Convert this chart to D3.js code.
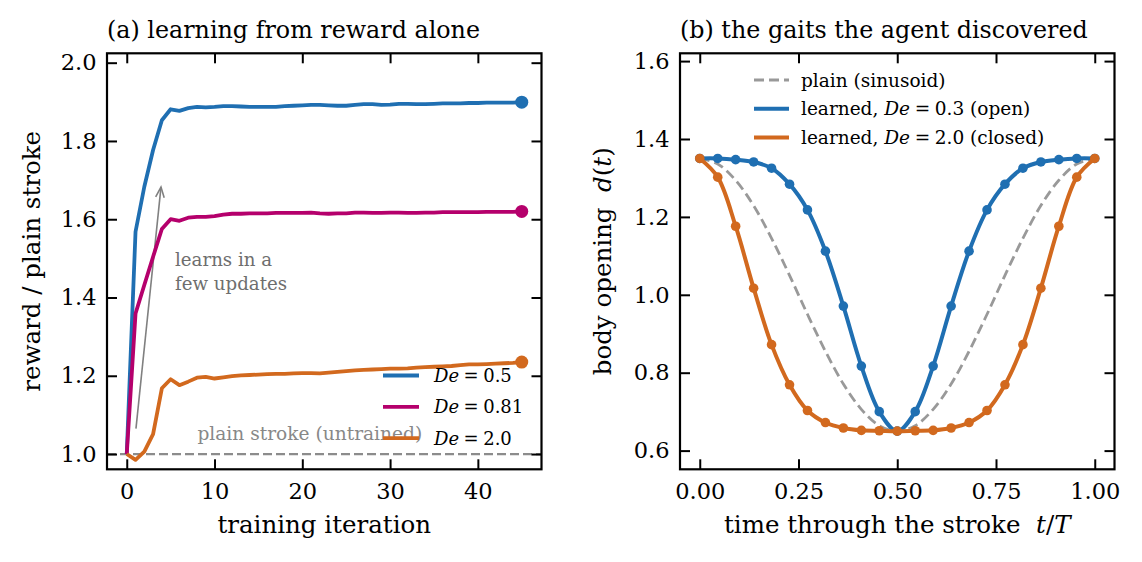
<!DOCTYPE html>
<html>
<head>
<meta charset="utf-8">
<script src="https://cdn.jsdelivr.net/npm/d3@7"></script>
<style>
  body { margin: 0; background: #fff; }
  svg, text, tspan { font-family: "DejaVu Serif", serif; }
</style>
</head>
<body>
<script>
// ---- panel (a): reward / plain stroke per training iteration (index = iteration)
var rewardDe05 = [1.000, 1.568, 1.683, 1.777, 1.853, 1.881, 1.877, 1.884, 1.887, 1.886,
                  1.887, 1.889, 1.889, 1.888, 1.887, 1.887, 1.887, 1.887, 1.889, 1.890,
                  1.891, 1.892, 1.892, 1.891, 1.890, 1.890, 1.892, 1.894, 1.894, 1.892,
                  1.893, 1.895, 1.895, 1.894, 1.894, 1.895, 1.896, 1.896, 1.896, 1.897,
                  1.897, 1.898, 1.898, 1.898, 1.898, 1.899];
var rewardDe081 = [1.000, 1.359, 1.432, 1.504, 1.575, 1.600, 1.596, 1.604, 1.606, 1.606,
                   1.608, 1.612, 1.614, 1.614, 1.615, 1.615, 1.615, 1.616, 1.616, 1.616,
                   1.616, 1.617, 1.615, 1.614, 1.615, 1.615, 1.617, 1.617, 1.616, 1.616,
                   1.617, 1.617, 1.616, 1.616, 1.617, 1.617, 1.618, 1.618, 1.618, 1.618,
                   1.618, 1.619, 1.619, 1.619, 1.619, 1.620];
var rewardDe2 = [1.000, 0.985, 1.006, 1.051, 1.168, 1.191, 1.176, 1.185, 1.195, 1.197,
                 1.193, 1.196, 1.199, 1.201, 1.202, 1.203, 1.204, 1.205, 1.205, 1.206,
                 1.207, 1.207, 1.206, 1.208, 1.210, 1.212, 1.214, 1.215, 1.216, 1.217,
                 1.218, 1.218, 1.219, 1.221, 1.222, 1.223, 1.224, 1.225, 1.227, 1.229,
                 1.229, 1.230, 1.231, 1.232, 1.233, 1.235];
var rewardLabels = ["0.5", "0.81", "2.0"];
var rewardTicksX = [0, 10, 20, 30, 40];
var rewardTicksY = [1.0, 1.2, 1.4, 1.6, 1.8, 2.0];

// ---- panel (b): body opening over one stroke
var phase = [0, 0.0455, 0.0909, 0.1364, 0.1818, 0.2273, 0.2727, 0.3182, 0.3636, 0.4091, 0.4545, 0.5,
             0.5455, 0.5909, 0.6364, 0.6818, 0.7273, 0.7727, 0.8182, 0.8636, 0.9091, 0.9545, 1.0];
var plainGait = [1.350, 1.336, 1.294, 1.229, 1.145, 1.050, 0.950, 0.855, 0.771, 0.706, 0.664, 0.650,
                 0.664, 0.706, 0.771, 0.855, 0.950, 1.050, 1.145, 1.229, 1.294, 1.336, 1.350];
var openGait = [1.350, 1.350, 1.347, 1.341, 1.325, 1.284, 1.218, 1.112, 0.971, 0.817, 0.700, 0.650,
                0.700, 0.817, 0.971, 1.112, 1.218, 1.284, 1.325, 1.341, 1.347, 1.350, 1.350];
var closedGait = [1.350, 1.302, 1.176, 1.017, 0.872, 0.769, 0.703, 0.672, 0.658, 0.652, 0.651, 0.650,
                  0.651, 0.652, 0.658, 0.672, 0.703, 0.769, 0.872, 1.017, 1.176, 1.302, 1.350];
var gaitTicksX = [0, 0.25, 0.5, 0.75, 1.0];
var gaitTicksY = [0.6, 0.8, 1.0, 1.2, 1.4, 1.6];

var blue = "#1f6fb2", magenta = "#b5006c", orange = "#d2691e";
var serif = "'DejaVu Serif', serif";
var tickFont = "22.5px", labelFont = "24.5px", titleFont = "23.8px", legendFont = "18.5px";

var svg = d3.select("body").append("svg")
  .attr("width", 1142)
  .attr("height", 562)
  .style("font-family", serif);

var frameA = {left: 107, right: 541.5, top: 53.3, bottom: 469.3};
var frameB = {left: 680, right: 1114.5, top: 53.3, bottom: 469.3};

var xA = d3.scaleLinear().domain([-2.25, 47.25]).range([frameA.left, frameA.right]);
var yA = d3.scaleLinear().domain([0.961, 2.024]).range([frameA.bottom, frameA.top]);
var xB = d3.scaleLinear().domain([-0.05, 1.05]).range([frameB.left, frameB.right]);
var yB = d3.scaleLinear().domain([0.552, 1.62]).range([frameB.bottom, frameB.top]);

function drawAxes(fr, x, y, xt, yt, xf, yf) {
  var g = svg.append("g");
  var bottom = g.append("g").attr("transform", "translate(0," + fr.bottom + ")")
    .call(d3.axisBottom(x).tickValues(xt).tickFormat(xf).tickSizeInner(-10).tickSizeOuter(0).tickPadding(14));
  var top = g.append("g").attr("transform", "translate(0," + fr.top + ")")
    .call(d3.axisTop(x).tickValues(xt).tickFormat("").tickSizeInner(-10).tickSizeOuter(0));
  var left = g.append("g").attr("transform", "translate(" + fr.left + ",0)")
    .call(d3.axisLeft(y).tickValues(yt).tickFormat(yf).tickSizeInner(-10).tickSizeOuter(0).tickPadding(10.5));
  var right = g.append("g").attr("transform", "translate(" + fr.right + ",0)")
    .call(d3.axisRight(y).tickValues(yt).tickFormat("").tickSizeInner(-10).tickSizeOuter(0));
  [bottom, top, left, right].forEach(function(a) {
    a.attr("font-family", null);
    a.select(".domain").remove();
    a.selectAll("line").attr("stroke", "#000").attr("stroke-width", 2);
    a.selectAll("text").attr("fill", "#000").style("font-size", tickFont);
  });
  return g;
}

function drawFrame(fr) {
  svg.append("rect")
    .attr("x", fr.left).attr("y", fr.top)
    .attr("width", fr.right - fr.left).attr("height", fr.bottom - fr.top)
    .attr("fill", "none").attr("stroke", "#000").attr("stroke-width", 2.2);
}

// ================= panel (a) =================
svg.append("clipPath").attr("id", "clipA").append("rect")
  .attr("x", frameA.left).attr("y", frameA.top)
  .attr("width", frameA.right - frameA.left).attr("height", frameA.bottom - frameA.top);

var plotA = svg.append("g");

// reference line: plain stroke
plotA.append("line")
  .attr("x1", frameA.left).attr("x2", frameA.right)
  .attr("y1", yA(1.0)).attr("y2", yA(1.0))
  .attr("stroke", "#8c8c8c").attr("stroke-width", 2.2).attr("stroke-dasharray", "9,4");

plotA.append("text")
  .attr("x", xA(8.05)).attr("y", 440)
  .attr("fill", "#888").style("font-size", "18.6px")
  .text("plain stroke (untrained)");

// annotation arrow
var arrowFrom = [1.05, 1.065], arrowTo = [3.9, 1.682];
var ax0 = xA(arrowFrom[0]), ay0 = yA(arrowFrom[1]), ax1 = xA(arrowTo[0]), ay1 = yA(arrowTo[1]);
var ang = Math.atan2(ay1 - ay0, ax1 - ax0);
plotA.append("line")
  .attr("x1", ax0).attr("y1", ay0).attr("x2", ax1).attr("y2", ay1)
  .attr("stroke", "#808080").attr("stroke-width", 1.6);
plotA.append("path")
  .attr("d", d3.line()([
    [ax1 - 11 * Math.cos(ang - 0.4), ay1 - 11 * Math.sin(ang - 0.4)],
    [ax1, ay1],
    [ax1 - 11 * Math.cos(ang + 0.4), ay1 - 11 * Math.sin(ang + 0.4)]
  ]))
  .attr("fill", "none").attr("stroke", "#808080").attr("stroke-width", 1.6);

plotA.append("text")
  .attr("x", xA(5.5)).attr("y", 266)
  .attr("fill", "#6e6e6e").style("font-size", "18.2px")
  .selectAll("tspan").data(["learns in a", "few updates"]).enter()
  .append("tspan").attr("x", xA(5.5)).attr("dy", function(d, i) { return i ? 23.5 : 0; })
  .text(function(d) { return d; });

var lineA = d3.line()
  .x(function(d, i) { return xA(i); })
  .y(function(d) { return yA(d); });

var seriesA = [
  {values: rewardDe05, color: blue, label: rewardLabels[0]},
  {values: rewardDe081, color: magenta, label: rewardLabels[1]},
  {values: rewardDe2, color: orange, label: rewardLabels[2]}
];

seriesA.forEach(function(s) {
  plotA.append("path")
    .attr("d", lineA(s.values))
    .attr("fill", "none").attr("stroke", s.color)
    .attr("stroke-width", 3.8).attr("stroke-linejoin", "round")
    .attr("clip-path", "url(#clipA)");
  var last = s.values.length - 1;
  plotA.append("circle")
    .attr("cx", xA(last)).attr("cy", yA(s.values[last]))
    .attr("r", 6.5).attr("fill", s.color);
});

// legend (a)
var legA = svg.append("g");
seriesA.forEach(function(s, i) {
  var ly = 375.5 + i * 31.3;
  legA.append("line")
    .attr("x1", 383).attr("x2", 419).attr("y1", ly).attr("y2", ly)
    .attr("stroke", s.color).attr("stroke-width", 3.8);
  var t = legA.append("text")
    .attr("x", 434).attr("y", ly).attr("dy", "0.36em")
    .style("font-size", "18px").attr("fill", "#000");
  t.append("tspan").style("font-style", "italic").text("De");
  t.append("tspan").text("\u2005=\u2005" + s.label);
});

drawAxes(frameA, xA, yA, rewardTicksX, rewardTicksY, d3.format("d"), d3.format(".1f"));
drawFrame(frameA);

svg.append("text")
  .attr("x", frameA.left).attr("y", 38)
  .style("font-size", titleFont)
  .text("(a) learning from reward alone");

svg.append("text")
  .attr("x", (frameA.left + frameA.right) / 2).attr("y", 533)
  .attr("text-anchor", "middle").style("font-size", labelFont)
  .text("training iteration");

svg.append("text")
  .attr("transform", "translate(40," + (frameA.top + frameA.bottom) / 2 + ") rotate(-90)")
  .attr("text-anchor", "middle").style("font-size", labelFont)
  .text("reward / plain stroke");

// ================= panel (b) =================
var plotB = svg.append("g");

var lineB = d3.line()
  .x(function(d, i) { return xB(phase[i]); })
  .y(function(d) { return yB(d); })
  .curve(d3.curveCatmullRom.alpha(0.5));

plotB.append("path")
  .attr("d", lineB(plainGait))
  .attr("fill", "none").attr("stroke", "#999")
  .attr("stroke-width", 2.8).attr("stroke-dasharray", "10,5");

var seriesB = [
  {values: openGait, color: blue},
  {values: closedGait, color: orange}
];

seriesB.forEach(function(s) {
  plotB.append("path")
    .attr("d", lineB(s.values))
    .attr("fill", "none").attr("stroke", s.color)
    .attr("stroke-width", 4).attr("stroke-linejoin", "round");
  plotB.selectAll(null).data(s.values).enter()
    .append("circle")
    .attr("cx", function(d, i) { return xB(phase[i]); })
    .attr("cy", function(d) { return yB(d); })
    .attr("r", 4.8).attr("fill", s.color);
});

// legend (b)
var legB = svg.append("g");
var legBItems = [
  {color: "#999", dash: "10,5", width: 2.8, parts: [["plain (sinusoid)", false]]},
  {color: blue, dash: null, width: 4, parts: [["learned, ", false], ["De", true], ["\u2005=\u20050.3 (open)", false]]},
  {color: orange, dash: null, width: 4, parts: [["learned, ", false], ["De", true], ["\u2005=\u20052.0 (closed)", false]]}
];
legBItems.forEach(function(it, i) {
  var ly = 80 + i * 28.7;
  legB.append("line")
    .attr("x1", 754).attr("x2", 789).attr("y1", ly).attr("y2", ly)
    .attr("stroke", it.color).attr("stroke-width", it.width)
    .attr("stroke-dasharray", it.dash);
  var t = legB.append("text")
    .attr("x", 801).attr("y", ly).attr("dy", "0.36em")
    .style("font-size", legendFont);
  it.parts.forEach(function(p) {
    t.append("tspan").style("font-style", p[1] ? "italic" : "normal").text(p[0]);
  });
});

drawAxes(frameB, xB, yB, gaitTicksX, gaitTicksY, d3.format(".2f"), d3.format(".1f"));
drawFrame(frameB);

svg.append("text")
  .attr("x", frameB.left).attr("y", 38)
  .style("font-size", titleFont)
  .text("(b) the gaits the agent discovered");

var xlabB = svg.append("text")
  .attr("x", (frameB.left + frameB.right) / 2).attr("y", 533)
  .attr("text-anchor", "middle").style("font-size", labelFont);
xlabB.append("tspan").text("time through the stroke\u00a0\u00a0");
xlabB.append("tspan").style("font-style", "italic").text("t");
xlabB.append("tspan").text("/");
xlabB.append("tspan").style("font-style", "italic").text("T");

var ylabB = svg.append("text")
  .attr("transform", "translate(611," + (frameB.top + frameB.bottom) / 2 + ") rotate(-90)")
  .attr("text-anchor", "middle").style("font-size", labelFont);
ylabB.append("tspan").text("body opening\u00a0\u00a0");
ylabB.append("tspan").style("font-style", "italic").text("d");
ylabB.append("tspan").text("(");
ylabB.append("tspan").style("font-style", "italic").text("t");
ylabB.append("tspan").text(")");

// make sure every label uses the serif face
svg.selectAll("text").style("font-family", serif);
</script>
</body>
</html>
